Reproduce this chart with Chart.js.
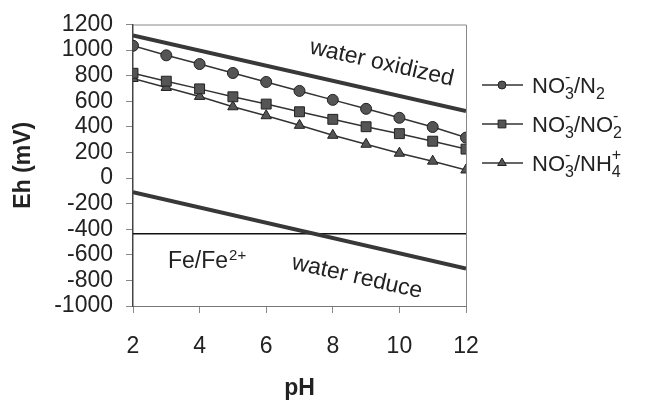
<!DOCTYPE html>
<html>
<head>
<meta charset="utf-8">
<script src="https://cdn.jsdelivr.net/npm/chart.js@4.4.1/dist/chart.umd.min.js"></script>
<style>
  html, body { margin: 0; padding: 0; background: #fff; }
  #wrap { width: 646px; height: 400px; position: relative; }
</style>
</head>
<body>
<div id="wrap"><canvas id="c" width="646" height="400"></canvas></div>
<script>
// Data
const pH = [2, 3, 4, 5, 6, 7, 8, 9, 10, 11, 12];
const no3N2 = [1034, 959, 891, 821, 751, 681, 611, 541, 471, 399, 316];
const no3NO2 = [819, 757, 697, 635, 578, 518, 459, 401, 347, 288, 226];
const no3NH4 = [778, 708, 638, 557, 487, 412, 334, 264, 194, 132, 63];
const linePH = [2, 12];
const waterOx = [1114, 524];
const waterRed = [-111, -707];
const feLine = [-435, -435];
const xTicks = [2, 4, 6, 8, 10, 12];
const yTicks = [-1000, -800, -600, -400, -200, 0, 200, 400, 600, 800, 1000, 1200];

const FONT = "'Liberation Sans', Arial, Helvetica, sans-serif";
const INK = '#222';

const pts = (xs, ys) => xs.map((x, i) => ({ x: x, y: ys[i] }));

function series(label, ys, style, r) {
  return {
    label: label, data: pts(pH, ys),
    borderColor: '#333', borderWidth: 1.5,
    pointStyle: style, pointRadius: r,
    pointBackgroundColor: '#555', pointBorderColor: '#222', pointBorderWidth: 1
  };
}
function straight(label, ys, w, col) {
  return {
    label: label, data: pts(linePH, ys),
    borderColor: col, borderWidth: w, pointRadius: 0
  };
}

// rich text: parts = [text, kind], kind: 'n' normal, 'sub', 'sup', 'stack' ([sub, sup])
function drawRich(ctx, x, y, parts, size, small) {
  ctx.textBaseline = 'alphabetic';
  ctx.textAlign = 'left';
  parts.forEach(p => {
    const t = p[0], k = p[1];
    if (k === 'n') {
      ctx.font = size + 'px ' + FONT;
      ctx.fillText(t, x, y);
      x += ctx.measureText(t).width;
    } else if (k === 'sub') {
      ctx.font = small + 'px ' + FONT;
      ctx.fillText(t, x, y + 6);
      x += ctx.measureText(t).width;
    } else if (k === 'stack') {
      ctx.font = small + 'px ' + FONT;
      ctx.fillText(t[0], x, y + 6);
      ctx.fillText(t[1], x, y - 11);
      x += Math.max(ctx.measureText(t[0]).width, ctx.measureText(t[1]).width);
    }
  });
}

const legendItems = [
  { ds: 0, r: 4, parts: [['NO', 'n'], [['3', '-'], 'stack'], ['/N', 'n'], ['2', 'sub']] },
  { ds: 1, r: 5.5, parts: [['NO', 'n'], [['3', '-'], 'stack'], ['/NO', 'n'], [['2', '-'], 'stack']] },
  { ds: 2, r: 5, parts: [['NO', 'n'], [['3', '-'], 'stack'], ['/NH', 'n'], [['4', '+'], 'stack']] }
];

const extras = {
  id: 'extras',
  afterDraw(chart) {
    const ctx = chart.ctx, a = chart.chartArea;
    const xs = chart.scales.x, ys = chart.scales.y;
    ctx.save();
    // top and right frame
    ctx.strokeStyle = '#888';
    ctx.lineWidth = 1;
    ctx.beginPath();
    ctx.moveTo(a.left, a.top + 0.5);
    ctx.lineTo(a.right + 0.5, a.top + 0.5);
    ctx.lineTo(a.right + 0.5, a.bottom);
    ctx.stroke();

    // rotated labels along the water lines
    const ang = Math.atan2(ys.getPixelForValue(waterOx[1]) - ys.getPixelForValue(waterOx[0]),
                           xs.getPixelForValue(linePH[1]) - xs.getPixelForValue(linePH[0]));
    ctx.fillStyle = INK;
    ctx.font = '23px ' + FONT;
    ctx.textAlign = 'center';
    ctx.textBaseline = 'middle';
    [['water oxidized', 9.47, 897], ['water reduce', 8.73, -775]].forEach(l => {
      ctx.save();
      ctx.translate(xs.getPixelForValue(l[1]), ys.getPixelForValue(l[2]));
      ctx.rotate(ang);
      ctx.fillText(l[0], 0, 0);
      ctx.restore();
    });

    // Fe/Fe2+
    ctx.font = '23px ' + FONT;
    ctx.textAlign = 'left';
    ctx.textBaseline = 'alphabetic';
    const fx = xs.getPixelForValue(3.05), fy = ys.getPixelForValue(-640) + 8;
    ctx.fillText('Fe/Fe', fx, fy);
    const fw = ctx.measureText('Fe/Fe').width;
    ctx.font = '15px ' + FONT;
    ctx.fillText('2+', fx + fw + 1, fy - 8);

    // legend
    legendItems.forEach((it, i) => {
      const ds = chart.data.datasets[it.ds];
      const cy = 85 + i * 39;
      ctx.strokeStyle = '#333';
      ctx.lineWidth = 1.5;
      ctx.beginPath();
      ctx.moveTo(482, cy);
      ctx.lineTo(523, cy);
      ctx.stroke();
      ctx.fillStyle = ds.pointBackgroundColor;
      ctx.strokeStyle = ds.pointBorderColor;
      ctx.lineWidth = 1;
      Chart.helpers.drawPoint(ctx, { pointStyle: ds.pointStyle, radius: it.r, borderWidth: 1 }, 502, cy);
      ctx.fillStyle = INK;
      drawRich(ctx, 532, cy + 8, it.parts, 22, 16);
    });
    ctx.restore();
  }
};

new Chart(document.getElementById('c'), {
  type: 'line',
  data: {
    datasets: [
      series('NO3-/N2', no3N2, 'circle', 5.5),
      series('NO3-/NO2-', no3NO2, 'rect', 7),
      series('NO3-/NH4+', no3NH4, 'triangle', 6),
      straight('water oxidized', waterOx, 4, '#383838'),
      straight('water reduce', waterRed, 4, '#383838'),
      straight('Fe/Fe2+', feLine, 1.5, '#111')
    ]
  },
  options: {
    responsive: false,
    animation: false,
    events: [],
    layout: { padding: { left: 0, top: 23, right: 180, bottom: 0 } },
    plugins: { legend: { display: false }, tooltip: { enabled: false } },
    scales: {
      x: {
        type: 'linear', min: 2, max: 12,
        afterBuildTicks: s => { s.ticks = xTicks.map(v => ({ value: v })); },
        afterFit: s => { s.height = 94; },
        grid: { drawOnChartArea: false, tickLength: 7, color: '#888' },
        border: { color: '#777', width: 1 },
        ticks: { color: INK, font: { family: FONT, size: 23 }, padding: 20, autoSkip: false, maxRotation: 0 },
        title: { display: true, text: 'pH', color: INK, font: { family: FONT, size: 23, weight: 'bold', lineHeight: 1 }, padding: { top: 0, bottom: 0 } }
      },
      y: {
        min: -1000, max: 1200,
        afterBuildTicks: s => { s.ticks = yTicks.map(v => ({ value: v })); },
        afterFit: s => { s.width = 133; },
        grid: { drawOnChartArea: false, tickLength: 7, color: '#888' },
        border: { color: '#444', width: 1.5 },
        ticks: { color: INK, font: { family: FONT, size: 23, lineHeight: 1 }, padding: 13, autoSkip: false, callback: v => String(v) },
        title: { display: true, text: 'Eh (mV)', color: INK, font: { family: FONT, size: 23, weight: 'bold' }, padding: { top: 10, bottom: 0 } }
      }
    }
  },
  plugins: [extras]
});
</script>
</body>
</html>
